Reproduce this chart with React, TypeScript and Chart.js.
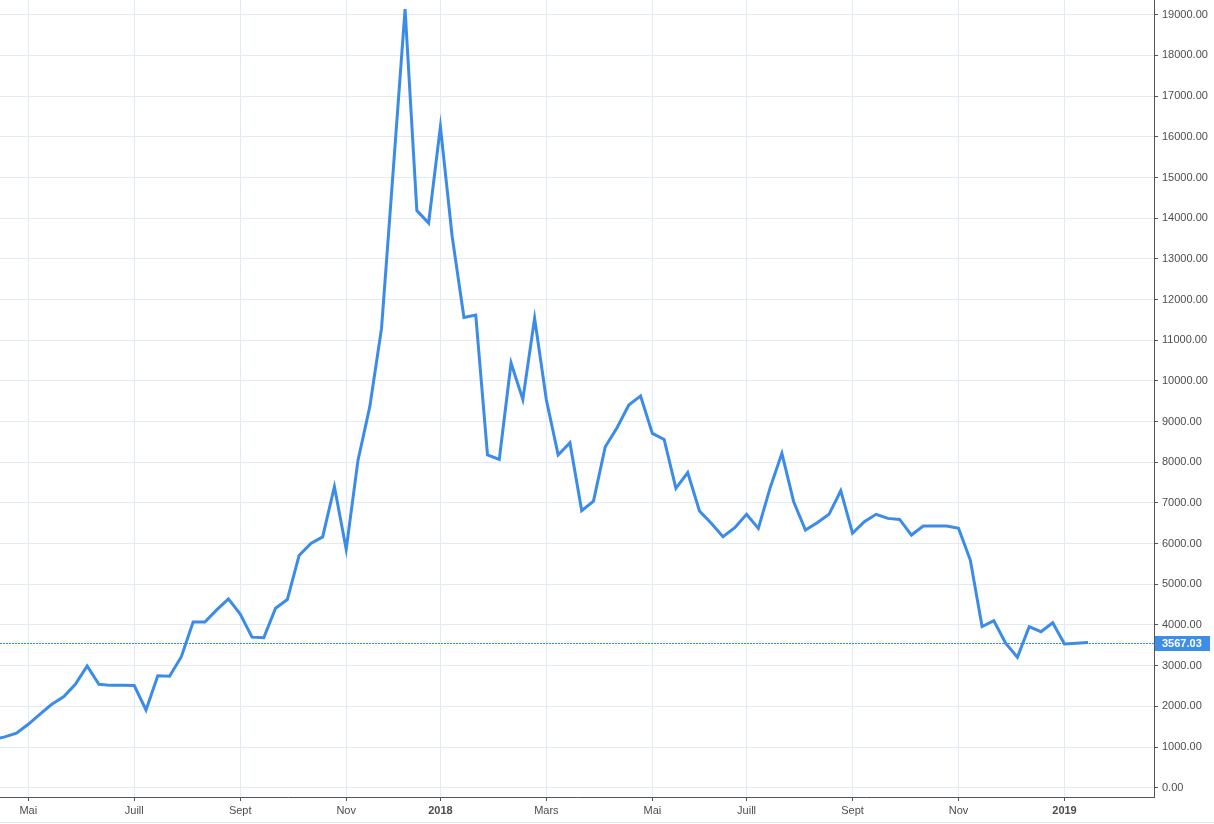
import React, { useEffect, useRef } from 'react';
import { Chart, registerables } from 'chart.js';

Chart.register(...registerables);

// Weekly closes, first bar = week starting 2017-04-10
const firstWeek = '2017-04-10';
const prices: number[] = [
  1180, 1250, 1340, 1558, 1810, 2050, 2235, 2540, 2990, 2540,
  2515, 2515, 2510, 1910, 2750, 2740, 3220, 4070, 4070, 4370,
  4640, 4270, 3700, 3685, 4410, 4625, 5710, 6005, 6165, 7400,
  5860, 8045, 9360, 11290, 15200, 19140, 14185, 13880, 16250, 13550,
  11560, 11620, 8180, 8070, 10440, 9545, 11540, 9530, 8180, 8480,
  6810, 7045, 8380, 8850, 9405, 9630, 8710, 8560, 7360, 7745,
  6800, 6500, 6170, 6390, 6720, 6375, 7370, 8220, 7030, 6335,
  6515, 6720, 7300, 6255, 6540, 6720, 6620, 6595, 6210, 6430,
  6430, 6430, 6375, 5595, 3960, 4105, 3550, 3205, 3958, 3835,
  4056, 3532, 3550, 3567.03,
];

// Month tick labels (odd months); January shows the year
const monthNames: Record<number, string> = { 2: 'Mars', 4: 'Mai', 6: 'Juill', 8: 'Sept', 10: 'Nov' };
const yTickValues: number[] = [
  0, 1000, 2000, 3000, 4000, 5000, 6000, 7000, 8000, 9000,
  10000, 11000, 12000, 13000, 14000, 15000, 16000, 17000, 18000, 19000,
];

const X_MIN = 0.6;
const X_MAX = 98.6;

const LINE_BLUE = '#3a8ce8';
const DOT_BLUE = '#2a8af2';
const LABEL_BLUE = '#3d8ee9';
const GRID = '#e2ebf2';
const AXIS = '#555555';
const TEXT = '#4d4d4d';
const FONT = 'Arial, "Liberation Sans", sans-serif';

function weekDate(i: number): Date {
  const d = new Date(firstWeek + 'T00:00:00Z');
  d.setUTCDate(d.getUTCDate() + 7 * i);
  return d;
}

const xTicks: { value: number; label: string; year: boolean }[] = [];
for (let i = 1; i < X_MAX - 2; i++) {
  const m = weekDate(i).getUTCMonth();
  const pm = weekDate(i - 1).getUTCMonth();
  if (m === pm) continue;
  if (m === 0) xTicks.push({ value: i, label: String(weekDate(i).getUTCFullYear()), year: true });
  else if (monthNames[m]) xTicks.push({ value: i, label: monthNames[m], year: false });
}

const lastPricePlugin = {
  id: 'lastPrice',
  beforeDatasetsDraw(chart: any) {
    const { ctx, chartArea, scales } = chart;
    const last = prices[prices.length - 1];
    const y = Math.round(scales.y.getPixelForValue(last));
    ctx.save();
    ctx.fillStyle = DOT_BLUE;
    for (let x = Math.round(chartArea.left); x < chartArea.right; x += 3) {
      ctx.fillRect(x, y, 2, 1);
    }
    ctx.restore();
  },
  afterDraw(chart: any) {
    const { ctx, chartArea, scales } = chart;
    const last = prices[prices.length - 1];
    const y = Math.round(scales.y.getPixelForValue(last));
    ctx.save();
    ctx.fillStyle = LABEL_BLUE;
    ctx.fillRect(chartArea.right + 1, y - 7, 55, 15);
    ctx.fillStyle = '#ffffff';
    ctx.font = 'bold 11px ' + FONT;
    ctx.textBaseline = 'middle';
    ctx.textAlign = 'left';
    ctx.fillText(last.toFixed(2), chartArea.right + 8, y + 1);
    ctx.restore();
  },
};

export default function App() {
  const ref = useRef<HTMLCanvasElement | null>(null);

  useEffect(() => {
    if (!ref.current) return;
    const chart = new Chart(ref.current, {
      type: 'line',
      data: {
        datasets: [
          {
            data: prices.map((p, i) => ({ x: i, y: p })),
            borderColor: LINE_BLUE,
            borderWidth: 3,
            pointRadius: 0,
            tension: 0,
            fill: false,
          },
        ],
      },
      options: {
        responsive: false,
        maintainAspectRatio: false,
        animation: false,
        layout: { padding: 0, autoPadding: false },
        plugins: { legend: { display: false }, tooltip: { enabled: false } },
        scales: {
          x: {
            type: 'linear',
            min: X_MIN,
            max: X_MAX,
            afterBuildTicks: (scale: any) => {
              scale.ticks = xTicks.map((t) => ({ value: t.value }));
            },
            afterFit: (scale: any) => {
              scale.height = 25;
              scale.paddingLeft = 0;
              scale.paddingRight = 0;
            },
            ticks: {
              autoSkip: false,
              maxRotation: 0,
              padding: 3,
              color: TEXT,
              font: (c: any) => {
                const t = xTicks.find((k) => k.value === c.tick?.value);
                return { family: FONT, size: 11, weight: t && t.year ? 'bold' : 'normal' };
              },
              callback: (v: any) => {
                const t = xTicks.find((k) => k.value === v);
                return t ? t.label : '';
              },
            },
            grid: { color: GRID, lineWidth: 1, tickColor: AXIS, tickLength: 4, drawTicks: true },
            border: { display: true, color: AXIS, width: 1 },
          },
          y: {
            type: 'linear',
            position: 'right',
            min: -229,
            max: 19363,
            afterBuildTicks: (scale: any) => {
              scale.ticks = yTickValues.map((v) => ({ value: v }));
            },
            afterFit: (scale: any) => {
              scale.width = 60;
              scale.paddingTop = 0;
              scale.paddingBottom = 0;
            },
            ticks: {
              padding: 4,
              color: TEXT,
              font: { family: FONT, size: 11 },
              callback: (v: any) => Number(v).toFixed(2),
            },
            grid: { color: GRID, lineWidth: 1, tickColor: AXIS, tickLength: 4, drawTicks: true },
            border: { display: true, color: AXIS, width: 1 },
          },
        },
      } as any,
      plugins: [lastPricePlugin],
    });
    return () => chart.destroy();
  }, []);

  return (
    <div
      style={{
        position: 'absolute',
        left: 0,
        top: 0,
        width: 1214,
        height: 824,
        background: '#ffffff',
        overflow: 'hidden',
      }}
    >
      <canvas ref={ref} width={1214} height={822} style={{ display: 'block' }} />
      <div style={{ height: 1, background: '#e3e6ea' }} />
    </div>
  );
}
